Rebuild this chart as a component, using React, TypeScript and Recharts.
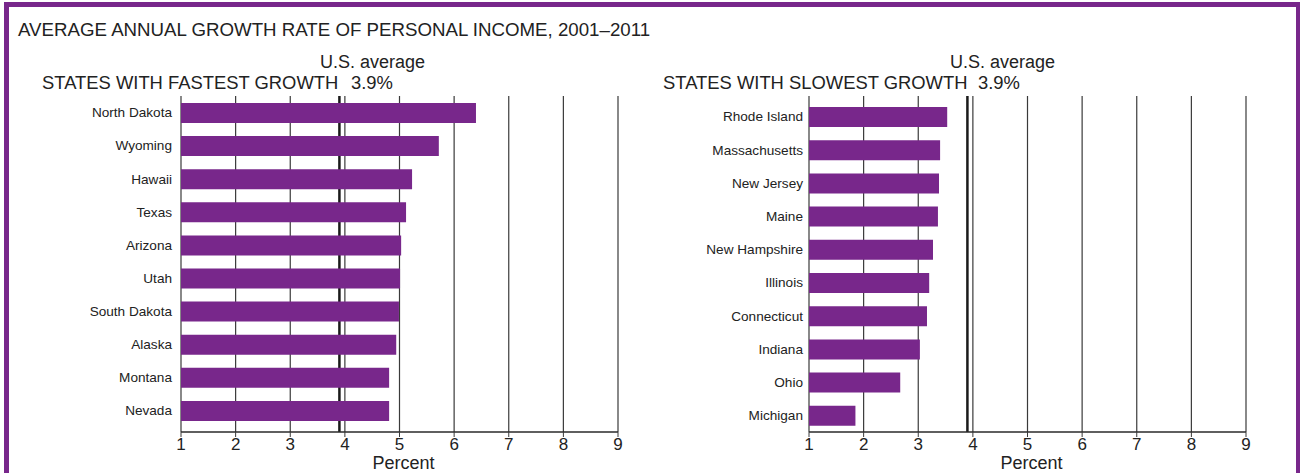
import { BarChart, Bar, XAxis, YAxis, CartesianGrid } from "recharts";

const fastStates = ["North Dakota", "Wyoming", "Hawaii", "Texas", "Arizona", "Utah", "South Dakota", "Alaska", "Montana", "Nevada"]
const fastValues = [6.4, 5.72, 5.23, 5.12, 5.03, 5.01, 4.99, 4.94, 4.81, 4.81]

const slowStates = ["Rhode Island", "Massachusetts", "New Jersey", "Maine", "New Hampshire", "Illinois", "Connecticut", "Indiana", "Ohio", "Michigan"]
const slowValues = [3.53, 3.4, 3.38, 3.36, 3.27, 3.2, 3.16, 3.03, 2.67, 1.85]

const percentTicks = [1, 2, 3, 4, 5, 6, 7, 8, 9]
const usAverage = 3.9

const purple = "#78278b"
const ink = "#222"
const font = "'Liberation Sans', Arial, sans-serif"

function GrowthPanel({ states, values, left, marginLeft, labelGap, pad }: { states: string[], values: number[], left: number, marginLeft: number, labelGap: number, pad: any }) {
    const dataChart = states.map((name, i) => ({ name, value: values[i] }))

    return <div style={{ position: "absolute", left: left, top: 0 }}>
        <BarChart width={650} height={473} data={dataChart} layout="vertical"
            margin={{ top: 96, right: 650 - marginLeft - 437, left: 0, bottom: 0 }}>
            <CartesianGrid horizontal={false} stroke="#3a3a3a" strokeWidth={1.2} />
            {/* U.S. average line, kept under the bars like the original */}
            <CartesianGrid horizontal={false} verticalValues={[usAverage]} stroke="#1a1a1a" strokeWidth={2.5} />
            <XAxis type="number" domain={[1, 9]} ticks={percentTicks} height={41}
                axisLine={{ stroke: "#2a2a2a", strokeWidth: 1.6 }} tickLine={{ stroke: "#3a3a3a" }} tickSize={5} tickMargin={1}
                tick={{ fontSize: 17, fill: ink, fontFamily: font }}
                label={{ value: "Percent", position: "insideBottom", offset: 4, dx: 4, fontSize: 18, fill: ink, fontFamily: font }} />
            <XAxis xAxisId="top" orientation="top" type="number" domain={[1, 9]} ticks={percentTicks} height={0}
                tick={false} tickLine={false} axisLine={{ stroke: "#3a3a3a", strokeWidth: 1.4 }} />
            <YAxis type="category" dataKey="name" width={marginLeft} axisLine={false} tickLine={false}
                tickSize={0} tickMargin={labelGap} padding={pad} interval={0}
                tick={{ fontSize: 13.6, fill: ink, fontFamily: font }} />
            <Bar dataKey="value" fill={purple} barSize={20} isAnimationActive={false} />
        </BarChart>
    </div>
}

export default function App() {
    return <div style={{ position: "absolute", left: 0, top: 0, width: 1300, height: 473, overflow: "hidden", background: "#fff" }}>
        <div style={{ position: "absolute", left: 4, top: 2, width: 1287, height: 520, border: `5px solid ${purple}` }} />
        <GrowthPanel states={fastStates} values={fastValues} left={0} marginLeft={181} labelGap={9} pad={{ top: 0, bottom: 5 }} />
        <GrowthPanel states={slowStates} values={slowValues} left={650} marginLeft={159} labelGap={6} pad={{ top: 4, bottom: 0 }} />
        <svg width={1300} height={473} style={{ position: "absolute", left: 0, top: 0, pointerEvents: "none" }}>
            <g fontFamily={font} fill={ink}>
                <text x={18} y={36} fontSize={18.7}>AVERAGE ANNUAL GROWTH RATE OF PERSONAL INCOME, 2001–2011</text>
                <text x={320} y={68} fontSize={18}>U.S. average</text>
                <text x={42} y={89} fontSize={18.4}>STATES WITH FASTEST GROWTH</text>
                <text x={351} y={89} fontSize={18.4}>3.9%</text>
                <text x={950} y={68} fontSize={18}>U.S. average</text>
                <text x={663} y={89} fontSize={18.4}>STATES WITH SLOWEST GROWTH</text>
                <text x={978} y={89} fontSize={18.4}>3.9%</text>
            </g>
        </svg>
    </div>
}
